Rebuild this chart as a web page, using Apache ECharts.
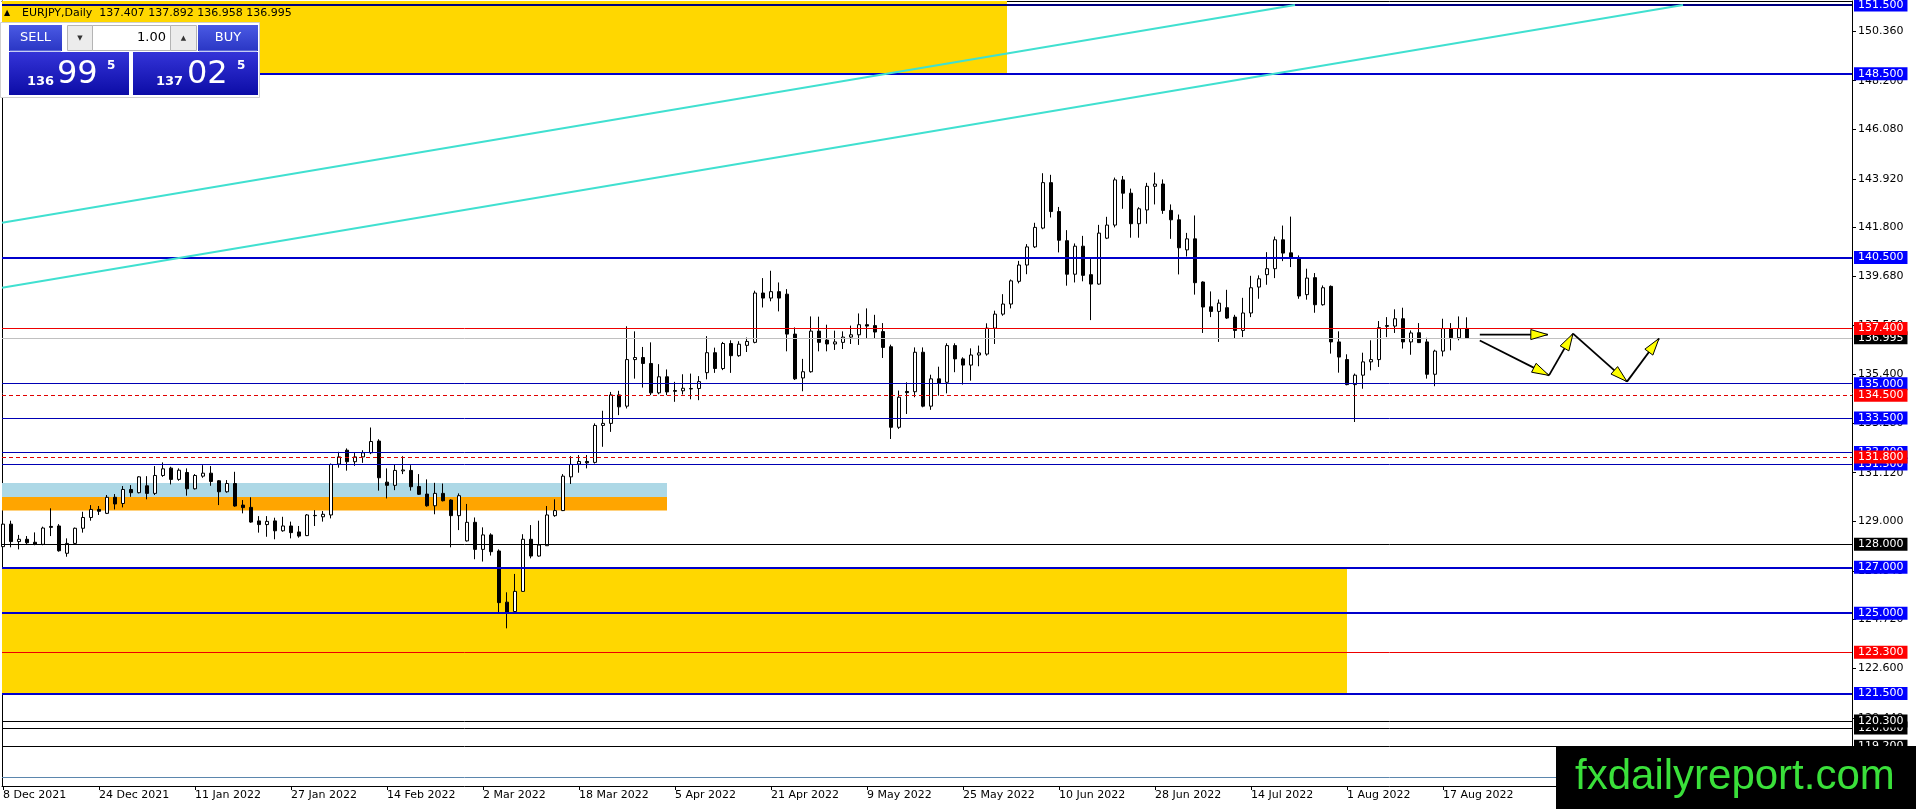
<!DOCTYPE html>
<html><head><meta charset="utf-8">
<script src="https://cdn.jsdelivr.net/npm/echarts@6/dist/echarts.min.js"></script>
<style>html,body{margin:0;padding:0;background:#fff;overflow:hidden}#c{width:1916px;height:809px}</style>
</head><body><div id="c"></div>
<script>
// ---- candles (index 0 = 8 Dec 2021, one per weekday) ----
const openP  = [127.90,128.88,128.12,128.22,128.09,128.00,128.78,128.80,127.61,128.04,128.70,129.17,129.52,129.35,130.05,129.78,130.39,130.25,130.55,130.22,131.00,131.32,130.83,131.13,130.42,130.97,131.10,130.77,130.29,130.65,129.71,129.61,129.02,128.86,129.02,128.59,128.80,128.54,128.38,129.26,129.20,129.28,131.50,132.10,131.60,131.81,131.99,132.50,130.71,130.57,131.20,131.22,130.52,130.19,129.68,130.22,129.93,129.25,128.15,128.96,127.78,128.41,127.71,125.48,125.07,125.95,128.22,127.49,127.94,129.25,129.47,130.94,131.50,131.61,131.57,133.18,133.27,134.51,134.02,136.05,136.14,135.88,134.60,135.30,134.70,134.69,134.79,134.79,135.48,136.35,135.66,136.75,136.22,136.67,136.80,138.95,138.73,139.01,138.90,137.16,135.25,135.52,137.29,136.90,136.73,136.80,137.03,137.13,137.57,137.53,137.27,136.61,133.10,134.66,134.65,136.37,134.02,135.21,135.06,136.66,136.08,135.81,136.25,136.29,137.42,138.03,138.47,139.46,140.17,140.96,141.78,143.76,142.50,141.23,139.77,140.99,139.75,139.34,141.34,141.91,143.88,143.30,141.97,142.57,143.60,143.70,142.55,142.14,140.83,141.31,139.43,138.35,138.15,138.31,137.90,137.32,138.08,139.21,139.75,140.01,141.27,140.70,140.49,138.88,139.62,138.44,139.24,136.82,136.05,134.96,135.37,135.95,136.05,137.53,137.51,137.83,136.82,137.22,136.82,135.41,136.42,137.40,137.00,137.407];
const highP  = [129.03,129.03,128.41,128.36,128.52,128.77,129.57,128.88,128.26,128.73,129.42,129.71,129.67,130.15,130.19,130.54,130.58,130.97,130.97,131.41,131.57,131.38,131.31,131.31,131.06,131.45,131.41,130.80,130.80,131.16,129.93,130.05,129.23,129.23,129.16,129.20,128.99,128.80,129.32,129.49,129.45,131.52,132.03,132.18,131.99,132.10,133.09,132.58,131.31,131.47,131.84,131.45,131.06,130.83,130.68,130.65,129.96,130.22,129.76,129.17,128.74,128.48,127.78,125.91,126.71,128.44,128.84,129.03,129.67,129.96,131.06,131.84,131.89,131.89,133.27,133.82,134.64,134.69,137.50,137.28,136.60,136.80,135.85,135.62,135.08,135.41,135.44,135.33,137.07,136.57,136.82,136.89,136.85,137.01,139.05,139.60,139.92,139.41,139.12,137.45,136.08,137.93,137.92,137.57,137.31,137.28,137.53,138.06,138.28,138.00,137.64,136.70,134.70,135.06,136.58,136.58,135.39,135.74,136.76,136.76,136.15,136.54,136.66,137.63,138.18,138.90,139.54,140.35,141.08,142.01,144.17,144.10,142.70,141.69,141.11,141.44,140.43,141.92,142.27,143.98,144.05,143.50,142.69,143.75,144.20,143.90,142.81,142.37,141.57,142.33,139.46,139.02,138.67,139.09,138.00,138.74,139.70,139.72,140.73,141.41,141.89,142.28,140.59,140.01,139.82,139.28,139.28,137.28,136.28,135.44,136.35,136.89,137.73,137.90,138.24,138.31,137.32,137.64,137.00,136.48,137.83,137.64,137.93,137.892];
const lowP   = [127.75,127.87,127.78,127.97,127.96,127.96,128.36,127.68,127.46,128.01,128.51,129.03,129.28,129.32,129.52,129.61,130.07,130.22,129.96,130.15,130.94,130.61,130.77,130.12,130.39,130.90,130.55,129.71,130.25,129.64,129.35,128.94,128.51,128.33,128.22,128.55,128.26,128.29,128.36,128.80,128.99,129.13,131.34,131.21,131.42,131.55,131.93,130.34,130.00,130.36,131.06,130.34,130.15,129.64,129.31,129.87,127.87,128.62,128.12,127.35,127.25,127.51,125.03,124.34,125.03,125.93,127.39,127.46,127.93,129.20,129.45,130.63,131.12,131.31,131.52,132.25,132.90,133.63,133.92,135.22,134.83,134.50,134.54,134.50,134.21,134.53,134.32,134.28,135.19,135.47,135.59,135.47,136.17,136.38,136.76,138.32,138.59,138.15,136.41,135.16,134.67,135.48,136.41,136.41,136.47,136.51,136.73,136.69,136.99,136.95,136.12,132.59,133.03,133.68,134.41,133.97,133.86,134.48,134.58,135.50,134.96,135.13,135.76,136.22,136.73,137.96,138.28,139.37,139.77,140.91,141.73,142.24,140.72,139.27,139.41,139.46,137.77,139.31,141.30,141.81,142.62,141.36,141.36,141.97,142.81,142.40,141.31,139.76,140.54,138.88,137.21,137.90,136.82,137.82,136.96,137.03,137.90,138.70,139.31,139.60,140.34,140.08,138.70,138.66,138.09,138.40,136.31,135.48,134.93,133.33,134.78,135.58,135.73,137.03,137.21,136.53,136.26,136.77,135.22,134.89,136.19,136.45,136.89,136.958];
const closeP = [128.88,128.12,128.22,128.07,128.01,128.71,128.74,127.72,128.04,128.70,129.17,129.52,129.44,130.05,129.76,130.39,130.25,130.94,130.22,131.00,131.29,130.83,131.23,130.42,131.00,131.10,130.74,130.29,130.65,129.67,129.60,128.97,128.86,129.00,128.59,128.80,128.51,128.36,129.28,129.25,129.31,131.48,131.81,131.60,131.81,131.99,132.48,130.90,130.57,131.22,131.24,130.51,130.18,129.68,130.22,129.90,129.25,130.12,128.96,127.78,128.41,127.68,125.46,125.03,125.95,128.22,127.49,127.97,129.28,129.47,130.97,131.48,131.61,131.55,133.18,133.27,134.51,133.99,136.05,136.14,135.88,134.60,135.30,134.64,134.67,134.80,134.77,135.09,136.35,135.66,136.75,136.22,136.72,136.84,138.95,138.73,139.01,138.73,137.16,135.21,135.52,137.29,136.80,136.73,136.82,137.03,137.13,137.57,137.51,137.25,136.58,133.10,134.41,134.61,136.37,134.02,135.21,135.03,136.66,136.08,135.81,136.25,136.34,137.42,138.03,138.47,139.48,140.17,140.96,141.81,143.76,142.50,141.25,139.77,140.99,139.72,139.34,141.56,141.91,143.88,143.30,141.97,142.62,143.60,143.70,142.55,142.14,140.92,141.31,139.40,138.34,138.15,138.51,137.86,137.32,138.08,139.18,139.57,140.01,141.27,140.69,140.47,138.82,139.60,138.44,139.18,136.82,136.16,134.96,135.37,135.95,136.05,137.44,137.50,137.83,136.82,137.21,136.79,135.41,136.42,137.40,137.00,137.40,136.995];

// ---- x-axis labels (bar index of each tick) ----
const xTickIdx = [0,12,24,36,48,60,72,84,96,108,120,132,144,156,168,180];
const monthNames = ['Jan','Feb','Mar','Apr','May','Jun','Jul','Aug','Sep','Oct','Nov','Dec'];

// ---- price axis tick labels ----
const yTicks = [150.36,148.2,146.08,143.92,141.8,139.68,137.56,135.4,133.28,131.12,129.0,126.84,124.72,122.6,120.44,118.32];

// ---- horizontal levels ----
const levelPrices = [151.5,148.5,140.5,136.995,137.4,135.0,134.5,133.5,132.0,131.5,131.8,128.0,127.0,125.0,123.3,121.5,120.0,120.3,119.2,117.85];
const levelKinds  = ['navy','blue2','blue2','bid','red','blue1','reddash','blue1','blue1','blue1','reddash','black','blue2','blue2','red','blue2','black','black','black','steel'];

// ---- zones (rectangles) ----
const zoneKinds = ['gold','lightblue','orange','gold'];
const zoneRight = [125.5,83,83,168];
const zoneLow   = [148.5,130.06,129.47,121.5];
const zoneHigh  = [151.674,130.67,130.06,127.0];

// ---- channel trendlines ----
const trendX0 = [-0.125,-0.125];
const trendY0 = [142.01,139.18];
const trendX1 = [161.5,210];
const trendY1 = [151.5,151.5];

// ---- projection arrows ----
const arrowX0 = [184.6,184.6,193.25,196.25,203.0];
const arrowY0 = [137.14,136.88,135.36,137.18,135.09];
const arrowX1 = [193.1,193.25,196.25,203.0,207.0];
const arrowY1 = [137.14,135.36,137.18,135.09,136.97];

const X_MIN = -0.125, X_MAX = 231.125, Y_MIN = 117.47, Y_MAX = 151.674;

// weekday calendar labels
const dateLabels = [];
(function(){
  let d = new Date(Date.UTC(2021,11,8));
  while (dateLabels.length < 240) {
    const wd = d.getUTCDay();
    if (wd !== 0 && wd !== 6) dateLabels.push(d.getUTCDate()+' '+monthNames[d.getUTCMonth()]+' '+d.getUTCFullYear());
    d = new Date(d.getTime()+86400000);
  }
})();

const FONT = 'DejaVu Sans';
const levelStyle = {
  navy:   {color:'#000080', width:2, type:'solid', bg:'#0000ff'},
  blue2:  {color:'#0000cc', width:2, type:'solid', bg:'#0000ff'},
  blue1:  {color:'#0000b4', width:1, type:'solid', bg:'#0000ff'},
  red:    {color:'#ee0000', width:1, type:'solid', bg:'#ff0000'},
  reddash:{color:'#e00000', width:1, type:[4,3], bg:'#ff0000'},
  black:  {color:'#000000', width:1, type:'solid', bg:'#000000'},
  bid:    {color:'#c0c0c0', width:1, type:'solid', bg:'#000000'},
  steel:  {color:'#5b86ad', width:1, type:'solid', bg:null}
};
const zoneColor = {gold:'#ffd700', lightblue:'#add8e6', orange:'#ffa500'};

const candleData = openP.map((o,i)=>[i, o, closeP[i], lowP[i], highP[i]]);

const levelLines = levelPrices.map((p,k)=>{
  const s = levelStyle[levelKinds[k]];
  return {
    yAxis: p,
    lineStyle: {color:s.color, width:s.width, type:s.type},
    label: s.bg ? {show:true, position:'end', distance:2, formatter:p.toFixed(3), color:'#fff',
      backgroundColor:s.bg, padding:[1,4,0,4], fontFamily:FONT, fontSize:11, lineHeight:12} : {show:false}
  };
});
const trendLines = trendX0.map((x,k)=>[
  {coord:[x,trendY0[k]], lineStyle:{color:'#40e0d0', width:2, type:'solid'}, label:{show:false}},
  {coord:[trendX1[k],trendY1[k]]}
]);
const zones = zoneKinds.map((z,k)=>[
  {coord:[X_MIN, zoneHigh[k]], itemStyle:{color:zoneColor[z], opacity:1}},
  {coord:[zoneRight[k], zoneLow[k]]}
]);

const chart = echarts.init(document.getElementById('c'), null, {renderer:'canvas'});
const grad = (a,b)=>new echarts.graphic.LinearGradient(0,0,0,1,[{offset:0,color:a},{offset:1,color:b}]);
const F = (size, weight)=>(weight?weight+' ':'')+size+'px "DejaVu Sans", sans-serif';
const frameAxis = {axisLine:{show:true, onZero:false, lineStyle:{color:'#000', width:1}}, axisTick:{show:false}, axisLabel:{show:false}, splitLine:{show:false}};

chart.setOption({
  animation:false,
  backgroundColor:'#fff',
  grid:{left:2, right:64, top:1, bottom:23, show:false},
  xAxis:[
    {type:'value', min:X_MIN, max:X_MAX,
      axisLine:{show:true, onZero:false, lineStyle:{color:'#000', width:1}},
      axisTick:{show:true, customValues:xTickIdx, length:4, lineStyle:{color:'#000'}},
      axisLabel:{customValues:xTickIdx, formatter:v=>dateLabels[Math.round(v)], align:'left', margin:4,
        fontFamily:FONT, fontSize:11, color:'#000'},
      splitLine:{show:false}},
    Object.assign({type:'value', position:'top', min:X_MIN, max:X_MAX}, frameAxis)
  ],
  yAxis:[
    {type:'value', position:'right', min:Y_MIN, max:Y_MAX,
      axisLine:{show:true, onZero:false, lineStyle:{color:'#000', width:1}},
      axisTick:{show:true, customValues:yTicks, length:4, lineStyle:{color:'#000'}},
      axisLabel:{customValues:yTicks, formatter:v=>v.toFixed(3), margin:6, fontFamily:FONT, fontSize:11, color:'#000'},
      splitLine:{show:false}},
    Object.assign({type:'value', position:'left', min:Y_MIN, max:Y_MAX}, frameAxis)
  ],
  series:[
    {type:'candlestick', data:candleData, barWidth:4, clip:true,
      itemStyle:{color:'#ffffff', color0:'#000000', borderColor:'#000000', borderColor0:'#000000', borderColorDoji:'#000000', borderWidth:1},
      markArea:{silent:true, data:zones},
      markLine:{silent:true, symbol:['none','none'], animation:false, data:levelLines.concat(trendLines)}
    },
    {type:'custom', coordinateSystem:'cartesian2d', z:10, clip:false,
      encode:{x:[0,2], y:[1,3]},
      data:arrowX0.map((x,k)=>[x, arrowY0[k], arrowX1[k], arrowY1[k]]),
      renderItem:(params, api)=>{
        const p0 = api.coord([api.value(0), api.value(1)]);
        const p1 = api.coord([api.value(2), api.value(3)]);
        const dx=p1[0]-p0[0], dy=p1[1]-p0[1], L=Math.sqrt(dx*dx+dy*dy)||1;
        const ux=dx/L, uy=dy/L, hl=17, hw=5;
        const bx=p1[0]-ux*hl, by=p1[1]-uy*hl;
        return {type:'group', children:[
          {type:'line', shape:{x1:p0[0],y1:p0[1],x2:p1[0],y2:p1[1]}, style:{stroke:'#000', lineWidth:1.8}},
          {type:'polygon', shape:{points:[[p1[0],p1[1]],[bx-uy*hw,by+ux*hw],[bx+uy*hw,by-ux*hw]]},
            style:{fill:'#ffff00', stroke:'#000', lineWidth:1}}
        ]};
      }
    }
  ],
  graphic:[
    {type:'text', x:4, y:13, z:100, style:{text:'▲', font:F(8), fill:'#000', verticalAlign:'middle'}},
    {type:'text', x:22, y:13, z:100, style:{text:'EURJPY,Daily  137.407 137.892 136.958 136.995', font:F(11), fill:'#000', verticalAlign:'middle'}},
    {type:'rect', z:100, shape:{x:0.5,y:22.5,width:259,height:75}, style:{fill:'#ffffff', stroke:'#d0d0d0', lineWidth:1}},
    {type:'rect', z:101, shape:{x:9,y:25,width:53,height:26}, style:{fill:grad('#4a5ae4','#2a36c4')}},
    {type:'line', z:102, shape:{x1:10,y1:51,x2:61,y2:51}, style:{stroke:'#8e9ae8', lineWidth:1}},
    {type:'text', z:103, x:35.5, y:38, style:{text:'SELL', font:F(13), fill:'#fff', align:'center', verticalAlign:'middle'}},
    {type:'rect', z:101, shape:{x:67.5,y:25.5,width:25,height:25}, style:{fill:'#ececec', stroke:'#b4b4b4', lineWidth:1}},
    {type:'text', z:103, x:80, y:38, style:{text:'▼', font:F(7), fill:'#333', align:'center', verticalAlign:'middle'}},
    {type:'rect', z:101, shape:{x:92.5,y:25.5,width:78,height:25}, style:{fill:'#ffffff', stroke:'#b4b4b4', lineWidth:1}},
    {type:'text', z:103, x:166, y:38, style:{text:'1.00', font:F(13), fill:'#000', align:'right', verticalAlign:'middle'}},
    {type:'rect', z:101, shape:{x:170.5,y:25.5,width:26,height:25}, style:{fill:'#ececec', stroke:'#b4b4b4', lineWidth:1}},
    {type:'text', z:103, x:183.5, y:38, style:{text:'▲', font:F(7), fill:'#333', align:'center', verticalAlign:'middle'}},
    {type:'rect', z:101, shape:{x:198,y:25,width:60,height:26}, style:{fill:grad('#4a5ae4','#2a36c4')}},
    {type:'line', z:102, shape:{x1:199,y1:51,x2:257,y2:51}, style:{stroke:'#8e9ae8', lineWidth:1}},
    {type:'text', z:103, x:228, y:38, style:{text:'BUY', font:F(13), fill:'#fff', align:'center', verticalAlign:'middle'}},
    {type:'rect', z:101, shape:{x:9,y:52,width:120,height:43}, style:{fill:grad('#3434d8','#0c0ca6')}},
    {type:'rect', z:101, shape:{x:133,y:52,width:125,height:43}, style:{fill:grad('#3434d8','#0c0ca6')}},
    {type:'text', z:103, x:27, y:88, style:{text:'136', font:F(13,'bold'), fill:'#fff', verticalAlign:'bottom'}},
    {type:'text', z:103, x:57, y:91, style:{text:'99', font:F(32), fill:'#fff', verticalAlign:'bottom'}},
    {type:'text', z:103, x:107, y:60, style:{text:'5', font:F(12,'bold'), fill:'#fff', verticalAlign:'top'}},
    {type:'text', z:103, x:156, y:88, style:{text:'137', font:F(13,'bold'), fill:'#fff', verticalAlign:'bottom'}},
    {type:'text', z:103, x:187, y:91, style:{text:'02', font:F(32), fill:'#fff', verticalAlign:'bottom'}},
    {type:'text', z:103, x:237, y:60, style:{text:'5', font:F(12,'bold'), fill:'#fff', verticalAlign:'top'}},
    {type:'rect', z:110, shape:{x:1556,y:746,width:360,height:63}, style:{fill:'#000'}},
    {type:'text', z:111, x:1575, y:777, style:{text:'fxdailyreport.com', font:'42px "Liberation Sans", Arial, sans-serif', fill:'#3ae03a', verticalAlign:'middle'}}
  ]
});
</script>
</body></html>
